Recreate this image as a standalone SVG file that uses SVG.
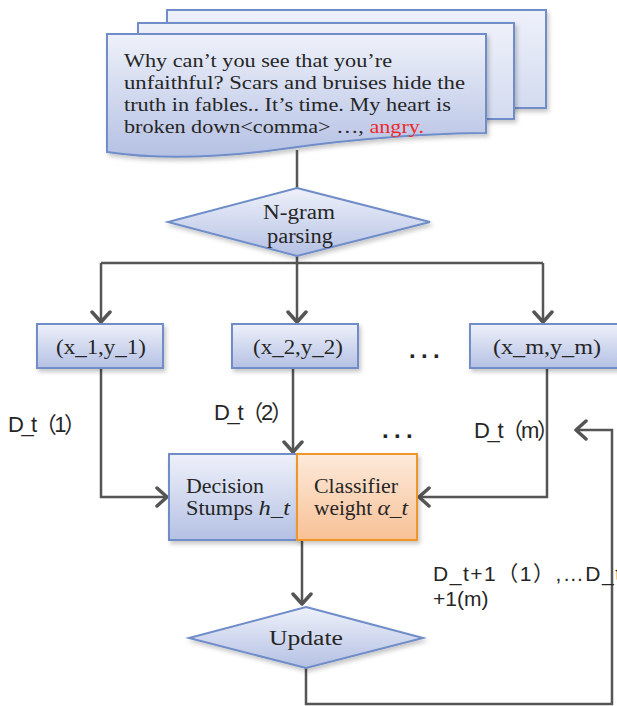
<svg xmlns="http://www.w3.org/2000/svg" width="617" height="706" viewBox="0 0 617 706">
<defs>
<linearGradient id="gBlue" x1="0" y1="0" x2="0" y2="1">
<stop offset="0" stop-color="#eef1fa"/><stop offset="1" stop-color="#b5c1e4"/>
</linearGradient>
<linearGradient id="gBlueL" x1="0" y1="0" x2="0" y2="1">
<stop offset="0" stop-color="#eef1fa"/><stop offset="1" stop-color="#d3dbf0"/>
</linearGradient>
<linearGradient id="gOrange" x1="0" y1="0" x2="0" y2="1">
<stop offset="0" stop-color="#fdeadb"/><stop offset="1" stop-color="#f8c196"/>
</linearGradient>
<filter id="sh" x="-10%" y="-10%" width="130%" height="140%">
<feDropShadow dx="2" dy="3" stdDeviation="2" flood-color="#000" flood-opacity="0.22"/>
</filter>
<marker id="arr" markerUnits="userSpaceOnUse" markerWidth="16" markerHeight="22" viewBox="0 0 16 22" refX="13" refY="11" orient="auto">
<path d="M3,2 L13,11 L3,20" fill="none" stroke="#555555" stroke-width="3.5" stroke-linecap="round" stroke-linejoin="round"/>
</marker>
<style>
.blue{fill:url(#gBlue);stroke:#6f8dc8;stroke-width:2;filter:url(#sh)}
.blueL{fill:url(#gBlueL);stroke:#6f8dc8;stroke-width:2;filter:url(#sh)}
.orange{fill:url(#gOrange);stroke:#f0952c;stroke-width:2;filter:url(#sh)}
.serif{font-family:"Liberation Serif","DejaVu Serif",serif;fill:#262626;font-size:20px}
.sans{font-family:"Liberation Sans","Noto Sans CJK SC",sans-serif;fill:#262626;font-size:22px}
.dots{font-family:"Liberation Sans",sans-serif;font-weight:bold;font-size:24px;fill:#262626;letter-spacing:5.3px}
.conn path{fill:none;stroke:#555555;stroke-width:2.5}
</style>
</defs>
<rect width="617" height="706" fill="#ffffff"/>

<g id="document">
<rect class="blueL" x="167" y="10" width="379" height="98"/>
<rect class="blueL" x="138" y="23" width="376" height="96"/>
<path class="blue" d="M107,34 H486 V133 C440,133 360,138 290,148 C220,158 160,160 107,152 Z"/>
<g class="serif" style="font-size:19px">
<text x="124" y="67" textLength="268" lengthAdjust="spacingAndGlyphs">Why can’t you see that you’re</text>
<text x="124" y="89" textLength="341" lengthAdjust="spacingAndGlyphs">unfaithful? Scars and bruises hide the</text>
<text x="124" y="111" textLength="327" lengthAdjust="spacingAndGlyphs">truth in fables.. It’s time. My heart is</text>
<text x="124" y="133" textLength="300" lengthAdjust="spacingAndGlyphs">broken down&lt;comma&gt; …, <tspan fill="#ee2a2a">angry.</tspan></text>
</g>
</g>

<g class="conn">
<path d="M297,150 V188"/>
<path d="M297,256 V322" marker-end="url(#arr)"/>
<path d="M101,263 H543"/>
<path d="M101,263 V322" marker-end="url(#arr)"/>
<path d="M543,263 V322" marker-end="url(#arr)"/>
<path d="M101,368 V497 H167" marker-end="url(#arr)"/>
<path d="M293,368 V452" marker-end="url(#arr)"/>
<path d="M547,368 V497 H419" marker-end="url(#arr)"/>
<path d="M302,540 V604" marker-end="url(#arr)"/>
<path d="M306,668 V704 H612 V430 H576" marker-end="url(#arr)"/>
</g>

<g id="ngram">
<path class="blue" d="M297,188 L430,222 L297,256 L168,222 Z"/>
<text class="serif" x="263" y="219" textLength="72" lengthAdjust="spacingAndGlyphs">N-gram</text>
<text class="serif" x="267" y="243" textLength="66" lengthAdjust="spacingAndGlyphs">parsing</text>
</g>

<g id="box1">
<rect class="blue" x="37" y="324" width="126" height="44"/>
<text class="serif" x="56" y="354" textLength="90" lengthAdjust="spacingAndGlyphs">(x_1,y_1)</text>
</g>
<g id="box2">
<rect class="blue" x="232" y="324" width="126" height="44"/>
<text class="serif" x="253" y="354" textLength="90" lengthAdjust="spacingAndGlyphs">(x_2,y_2)</text>
</g>
<g id="box3">
<rect class="blue" x="470" y="324" width="170" height="44"/>
<text class="serif" x="493" y="354" textLength="108" lengthAdjust="spacingAndGlyphs">(x_m,y_m)</text>
</g>

<g id="stumps">
<rect class="blue" x="169" y="454" width="128" height="86"/>
<text class="serif" x="186" y="493" textLength="78" lengthAdjust="spacingAndGlyphs">Decision</text>
<text class="serif" x="186" y="515" textLength="104" lengthAdjust="spacingAndGlyphs">Stumps <tspan font-style="italic" style="font-size:22px">h_t</tspan></text>
</g>
<g id="weight">
<rect class="orange" x="297" y="454" width="120" height="86"/>
<text class="serif" x="314" y="493" textLength="84" lengthAdjust="spacingAndGlyphs">Classifier</text>
<text class="serif" x="314" y="515" textLength="94" lengthAdjust="spacingAndGlyphs">weight <tspan font-style="italic" style="font-size:22px">α_t</tspan></text>
</g>

<g id="update">
<path class="blue" d="M306,607 L423,638 L306,668 L189,638 Z"/>
<text class="serif" x="269" y="645" textLength="74" lengthAdjust="spacingAndGlyphs">Update</text>
</g>

<g id="labels">
<text class="dots" x="409" y="358">...</text>
<text class="dots" x="382" y="438">...</text>
<text class="sans" x="8" y="432" textLength="78" lengthAdjust="spacing">D_t（1）</text>
<text class="sans" x="214" y="420" textLength="79" lengthAdjust="spacing">D_t（2）</text>
<text class="sans" x="474" y="438" textLength="85" lengthAdjust="spacing">D_t（m）</text>
<text class="sans" style="font-size:21px" x="433" y="581" textLength="188" lengthAdjust="spacing">D_t+1（1）,…D_t</text>
<text class="sans" style="font-size:21px" x="433" y="606">+1(m)</text>
</g>
</svg>
